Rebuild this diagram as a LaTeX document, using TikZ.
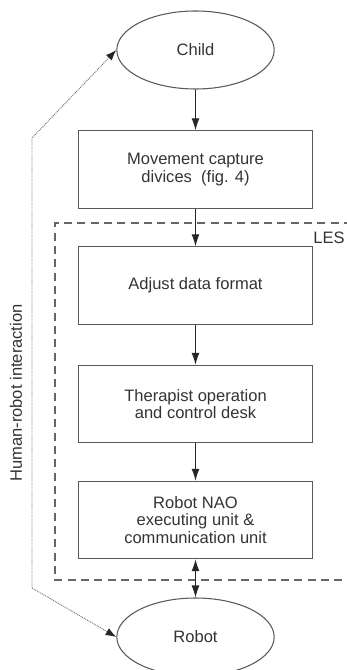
\documentclass[tikz,border=0pt]{standalone}
\usepackage{fontspec}
\setmainfont{Liberation Sans}
\usetikzlibrary{shapes.geometric,arrows.meta}

\begin{document}
\begin{tikzpicture}[x=0.75pt,y=-0.75pt,
  every node/.style={text=black!80,font=\fontsize{12.4}{12.9}\selectfont},
  box/.style={draw=black!65,line width=0.8pt,minimum width=176pt,minimum height=58pt,align=center,inner sep=0pt},
  oval/.style={ellipse,draw=black!65,line width=0.8pt,minimum width=118pt,minimum height=58.5pt,inner sep=0pt},
  flow/.style={draw=black!85,line width=0.8pt,-{Latex[length=9pt,width=6pt]}},
  link/.style={draw=black!55,line width=0.7pt,dash pattern=on 0.7pt off 0.7pt,
    {Latex[length=8pt,width=6pt,color=black!85]}-{Latex[length=8pt,width=6pt,color=black!85]}},
  les/.style={draw=black!60,line width=0.8pt,dash pattern=on 6pt off 4pt}]
\useasboundingbox (0,0) rectangle (346,670);
% main chain
\node[oval] (child) at (195.5,50) {Child};
\node[box] (capture) at (195.5,169.5) {Movement capture\\divices\ \ (fig. 4)};
\node[box] (adjust) at (195.5,285.5) {Adjust data format};
\node[box] (desk) at (195.5,404) {Therapist operation\\and control desk};
\node[box] (nao) at (195.5,520) {Robot NAO\\executing unit \&\\communication unit};
\node[oval] (robot) at (195.5,637) {Robot};
% LES frame
\draw[les] (352,223) -| (55,580) -- (352,580);
\node[anchor=east,inner sep=0pt] (lesname) at (345,238) {LES};
% connectors
\draw[flow] (child) -- (capture);
\draw[flow] (capture) -- (adjust);
\draw[flow] (adjust) -- (desk);
\draw[flow] (desk) -- (nao);
\draw[flow,{Latex[length=9pt,width=6pt]}-{Latex[length=9pt,width=6pt]}] (nao) -- (robot);
% interaction loop
\coordinate (looptop) at (32,138);
\coordinate (loopbot) at (32,588);
\draw[link] (child.west) -- (looptop) -- (loopbot) -- (robot.west);
\node[rotate=90] (hri) at (16,393) {Human-robot interaction};
\end{tikzpicture}
\end{document}
